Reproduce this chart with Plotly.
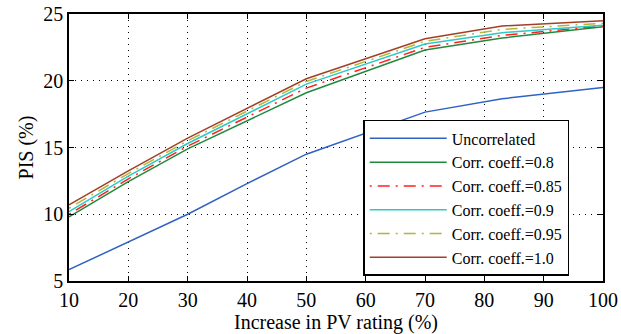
import plotly.graph_objects as go

pv_increase = [10, 20, 30, 40, 50, 70, 83, 100]
uncorrelated = [5.85, 7.95, 10.0, 12.3, 14.5, 17.65, 18.65, 19.5]
corr_080 = [9.8, 12.45, 14.9, 17.0, 19.1, 22.3, 23.2, 24.05]
corr_085 = [10.0, 12.65, 15.1, 17.25, 19.45, 22.5, 23.4, 24.1]
corr_090 = [10.2, 12.85, 15.3, 17.5, 19.75, 22.75, 23.6, 24.15]
corr_095 = [10.45, 13.05, 15.5, 17.7, 19.95, 22.95, 23.85, 24.3]
corr_100 = [10.7, 13.25, 15.7, 17.9, 20.15, 23.15, 24.1, 24.5]

series = [
    ("Uncorrelated", uncorrelated, "#2f62c4", "solid"),
    ("Corr. coeff.=0.8", corr_080, "#1f8a3c", "solid"),
    ("Corr. coeff.=0.85", corr_085, "#ff2020", "2px,6px,12px,6px"),
    ("Corr. coeff.=0.9", corr_090, "#2ec8c8", "solid"),
    ("Corr. coeff.=0.95", corr_095, "#b5b53a", "2px,6px,12px,6px"),
    ("Corr. coeff.=1.0", corr_100, "#a33f28", "solid"),
]

fig = go.Figure()
for name, vals, color, dash in series:
    fig.add_trace(go.Scatter(x=pv_increase, y=vals, mode="lines", name=name,
                             line=dict(color=color, width=1.5, dash=dash)))

font_family = "Times New Roman, Liberation Serif, serif"
axis_common = dict(
    showline=True, linecolor="black", linewidth=1.5, mirror="ticks",
    ticks="inside", ticklen=5, tickcolor="black", tickwidth=1,
    showgrid=True, gridcolor="black", gridwidth=1, griddash="1px,5px",
    zeroline=False, ticklabeloverflow="allow",
    tickfont=dict(family=font_family, size=20, color="black"),
)

fig.update_layout(
    template="none",
    width=621, height=334,
    margin=dict(l=69, r=18, t=14, b=53, autoexpand=False),
    paper_bgcolor="white", plot_bgcolor="white",
    font=dict(family=font_family, color="black", size=20),
    xaxis=dict(range=[10, 100], tickvals=list(range(10, 101, 10)),
               title=dict(text="Increase in PV rating (%)", font=dict(family=font_family, size=20), standoff=0),
               **axis_common),
    yaxis=dict(range=[5, 25], tickvals=[5, 10, 15, 20, 25],
               title=dict(text="PIS (%)", font=dict(family=font_family, size=20), standoff=4),
               **axis_common),
    legend=dict(x=0.551, y=0.019, xanchor="left", yanchor="bottom",
                bgcolor="white", bordercolor="black", borderwidth=1.5,
                font=dict(family=font_family, size=16, color="black"),
                tracegroupgap=0, itemwidth=77),
)

fig.write_html("out.html", config={"displayModeBar": False},
               post_script="document.body.style.margin='0';")
